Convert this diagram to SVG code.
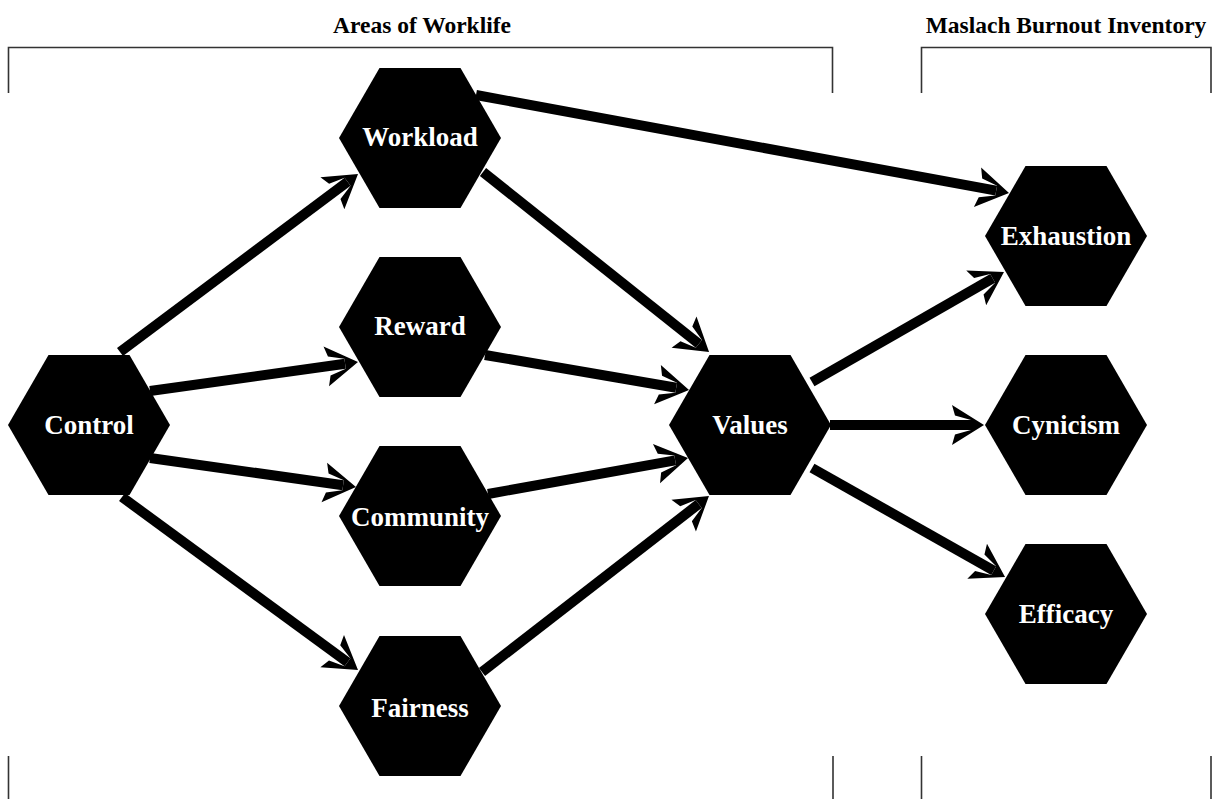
<svg xmlns="http://www.w3.org/2000/svg" width="1214" height="799" viewBox="0 0 1214 799">
<style>
.hex{fill:#000}
.lbl{fill:#fff;font-family:"Liberation Serif","Times New Roman",serif;font-weight:bold;font-size:27px;text-anchor:middle}
.hdr{fill:#000;font-family:"Liberation Serif","Times New Roman",serif;font-weight:bold;font-size:23.5px;text-anchor:middle}
.br{fill:none;stroke:#333;stroke-width:1.6}
.ed{fill:none;stroke:#000;stroke-width:10;marker-end:url(#ah)}
</style>
<defs>
<polygon id="hx" points="-81,0 -40.5,-70 40.5,-70 81,0 40.5,70 -40.5,70"/>
<marker id="ah" markerUnits="userSpaceOnUse" orient="auto" refX="0" refY="0" markerWidth="60" markerHeight="60" viewBox="-30 -30 50 60" overflow="visible">
<path d="M13,0 L-19,-20 L-16,-9.5 L0,-5 L0,5 L-16,9.5 L-19,20 Z" fill="#000"/>
</marker>
</defs>
<g id="brackets">
<text class="hdr" x="422" y="33">Areas of Worklife</text>
<text class="hdr" x="1066" y="33">Maslach Burnout Inventory</text>
<path class="br" d="M8.5,93 V47.5 H832.5 V93"/>
<path class="br" d="M921.5,93 V47.5 H1211 V93"/>
<path class="br" d="M8.5,756 V799 M833,756 V799 M921.5,756 V799 M1211,756 V799"/>
</g>
<g id="connectors">
<path class="ed" d="M120,352 L347.6,181.8"/>
<path class="ed" d="M150,391 L345.1,363.8"/>
<path class="ed" d="M150,458 L343.1,485.2"/>
<path class="ed" d="M122,497 L347.5,662.3"/>
<path class="ed" d="M476,95 L996.2,190.7"/>
<path class="ed" d="M483,172 L698.9,343.9"/>
<path class="ed" d="M485,355 L676.2,387.8"/>
<path class="ed" d="M488,494 L675.2,460.3"/>
<path class="ed" d="M482,672 L698.7,504"/>
<path class="ed" d="M812,382 L992.7,278.4"/>
<path class="ed" d="M830,425 L971,425"/>
<path class="ed" d="M812,468 L993.7,570.6"/>
</g>
<g id="control"><use href="#hx" x="89" y="425" class="hex"/><text class="lbl" x="89" y="434">Control</text></g>
<g id="workload"><use href="#hx" x="420" y="138" class="hex"/><text class="lbl" x="420" y="146">Workload</text></g>
<g id="reward"><use href="#hx" x="420" y="327" class="hex"/><text class="lbl" x="420" y="335">Reward</text></g>
<g id="community"><use href="#hx" x="420" y="516" class="hex"/><text class="lbl" x="420" y="526">Community</text></g>
<g id="fairness"><use href="#hx" x="420" y="706" class="hex"/><text class="lbl" x="420" y="717">Fairness</text></g>
<g id="values"><use href="#hx" x="750" y="425" class="hex"/><text class="lbl" x="750" y="434">Values</text></g>
<g id="exhaustion"><use href="#hx" x="1066" y="236" class="hex"/><text class="lbl" x="1066" y="245">Exhaustion</text></g>
<g id="cynicism"><use href="#hx" x="1066" y="425" class="hex"/><text class="lbl" x="1066" y="434">Cynicism</text></g>
<g id="efficacy"><use href="#hx" x="1066" y="614" class="hex"/><text class="lbl" x="1066" y="623">Efficacy</text></g>
</svg>
